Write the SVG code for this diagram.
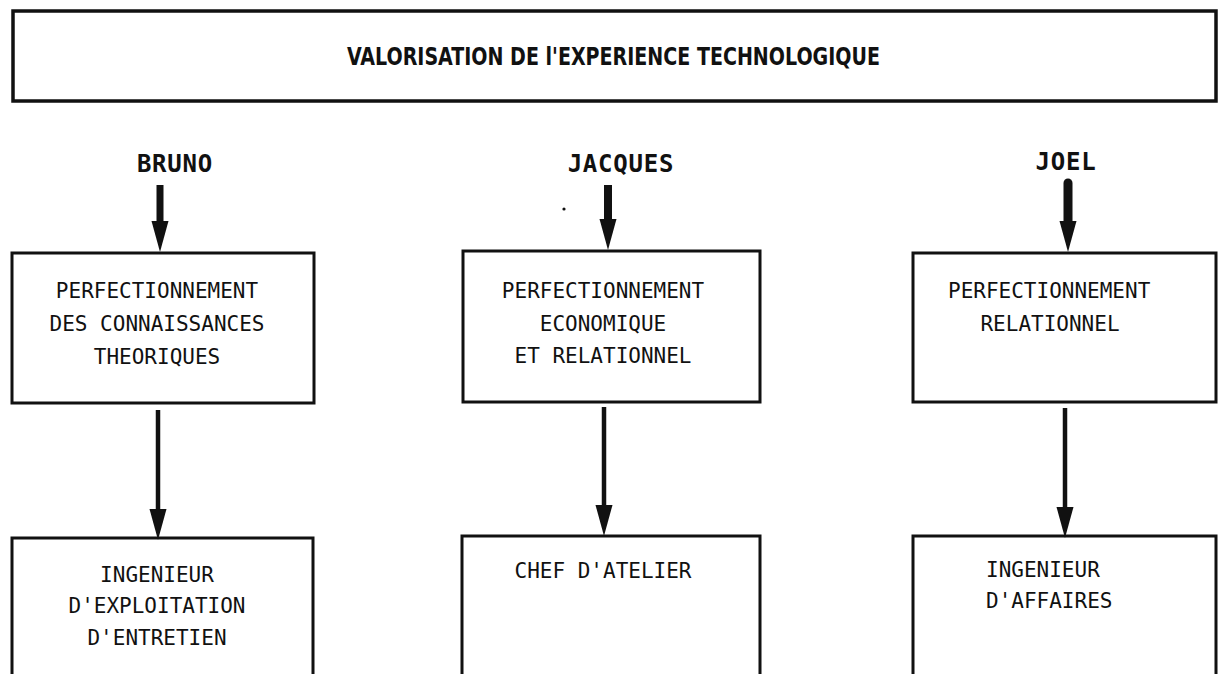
<svg xmlns="http://www.w3.org/2000/svg" width="1219" height="674" viewBox="0 0 1219 674">
  <style>
    .box { fill: none; stroke: #111; stroke-width: 3; }
    .title-box { fill: none; stroke: #111; stroke-width: 3.5; }
    .lbl { font-family: "DejaVu Sans Mono", "Liberation Mono", monospace; font-size: 21px; fill: #111; }
    .name { font-family: "DejaVu Sans Mono", "Liberation Mono", monospace; font-size: 24px; font-weight: bold; fill: #111; letter-spacing: 0.8px; text-anchor: middle; }
    .title { font-family: "DejaVu Sans", "Liberation Sans", sans-serif; font-stretch: condensed; font-size: 21px; font-weight: bold; fill: #111; }
    .mid { text-anchor: middle; }
    .shaft-top { stroke: #111; fill: none; }
    .shaft-low { stroke: #111; stroke-width: 4.5; fill: none; }
  </style>
  <defs>
    <marker id="head" markerUnits="userSpaceOnUse" markerWidth="32" markerHeight="18" refX="1" refY="8.5" orient="auto">
      <path d="M0,0 L31,8.5 L0,17 Z" fill="#111"/>
    </marker>
  </defs>

  <rect width="1219" height="674" fill="#fff"/>

  <!-- heading -->
  <g id="title">
    <rect class="title-box" x="13" y="11" width="1203" height="90"/>
    <text class="title" x="347" y="65" textLength="533" lengthAdjust="spacingAndGlyphs" transform="translate(347 65) scale(1 1.2) translate(-347 -65)">VALORISATION DE l'EXPERIENCE TECHNOLOGIQUE</text>
  </g>

  <!-- people -->
  <g id="bruno"><text class="name" x="175" y="172">BRUNO</text></g>
  <g id="jacques"><text class="name" x="621" y="172">JACQUES</text></g>
  <g id="joel"><text class="name" x="1066" y="170">JOEL</text></g>

  <!-- training boxes -->
  <g id="perf-theorie">
    <rect class="box" x="12" y="253" width="302" height="150"/>
    <text class="lbl mid" x="157" y="298">PERFECTIONNEMENT</text>
    <text class="lbl mid" x="157" y="331">DES CONNAISSANCES</text>
    <text class="lbl mid" x="157" y="364">THEORIQUES</text>
  </g>
  <g id="perf-eco">
    <rect class="box" x="463" y="251" width="297" height="151"/>
    <text class="lbl mid" x="603" y="298">PERFECTIONNEMENT</text>
    <text class="lbl mid" x="603" y="331">ECONOMIQUE</text>
    <text class="lbl mid" x="603" y="363">ET RELATIONNEL</text>
  </g>
  <g id="perf-rel">
    <rect class="box" x="913" y="253" width="303" height="149"/>
    <text class="lbl" x="948" y="298">PERFECTIONNEMENT</text>
    <text class="lbl mid" x="1050" y="331">RELATIONNEL</text>
  </g>

  <!-- resulting positions (boxes run off the bottom edge) -->
  <g id="ing-exploitation">
    <path class="box" d="M12,690 V538 H313 V690"/>
    <text class="lbl mid" x="157" y="582">INGENIEUR</text>
    <text class="lbl mid" x="157" y="613">D'EXPLOITATION</text>
    <text class="lbl mid" x="157" y="645">D'ENTRETIEN</text>
  </g>
  <g id="chef-atelier">
    <path class="box" d="M462,690 V536 H760 V690"/>
    <text class="lbl mid" x="603" y="578">CHEF D'ATELIER</text>
  </g>
  <g id="ing-affaires">
    <path class="box" d="M913,690 V536 H1216 V690"/>
    <text class="lbl" x="986" y="577">INGENIEUR</text>
    <text class="lbl" x="986" y="608">D'AFFAIRES</text>
  </g>

  <!-- arrows -->
  <g id="connectors">
    <line class="shaft-top" x1="160" y1="185" x2="160" y2="222" stroke-width="7" marker-end="url(#head)"/>
    <line class="shaft-top" x1="608" y1="185" x2="608" y2="220" stroke-width="8" marker-end="url(#head)"/>
    <line class="shaft-top" x1="1068" y1="183" x2="1068" y2="222" stroke-width="9" stroke-linecap="round" marker-end="url(#head)"/>
    <line class="shaft-low" x1="158" y1="410" x2="158" y2="510" marker-end="url(#head)"/>
    <line class="shaft-low" x1="604" y1="407" x2="604" y2="506" marker-end="url(#head)"/>
    <line class="shaft-low" x1="1065" y1="408" x2="1065" y2="508" marker-end="url(#head)"/>
  </g>

  <circle cx="564" cy="209" r="1.6" fill="#111"/>
</svg>
